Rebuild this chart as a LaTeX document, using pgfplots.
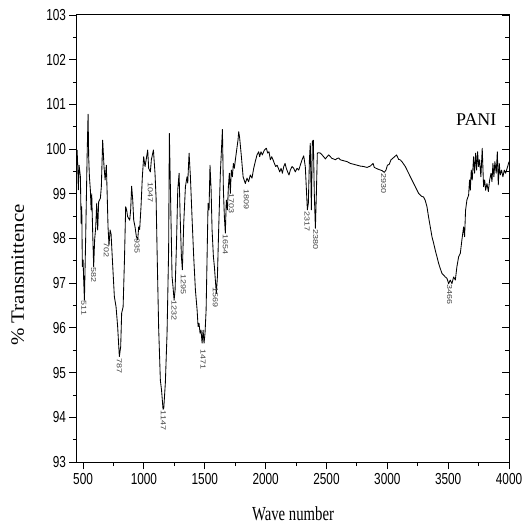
\documentclass[border=0pt]{standalone}
\usepackage{fontspec}
\usepackage{graphicx}
\usepackage{pgfplots}
\usepackage{pgfplotstable}
\pgfplotsset{compat=1.18}
\setmainfont{Liberation Serif}
\newfontfamily\tickfont{Liberation Sans}[FakeStretch=0.74]
\newfontfamily\labfont{Liberation Serif}[FakeStretch=0.74]
\newfontfamily\peakfont{Liberation Sans}

\pgfplotstableread{
x y
451 99.98
456 99.61
461 99.09
467 99.64
478 99.38
484 98.34
489 98.71
494 97.37
500 97.52
505 97.07
511 96.62
521 97.97
533 99.83
541 100.78
546 99.83
552 99.38
560 99.08
566 98.64
571 99.00
579 98.12
587 97.37
595 97.97
604 98.26
612 98.79
620 98.19
628 98.82
642 98.90
650 99.16
661 100.20
672 99.61
681 99.31
691 99.64
697 99.09
705 98.26
713 97.85
722 98.19
730 98.10
741 97.52
757 96.70
771 96.47
784 96.03
795 95.50
798 95.36
809 95.58
817 96.33
829 96.47
840 97.52
850 98.71
858 98.64
866 98.49
883 98.41
891 98.64
899 99.17
908 98.86
916 98.41
927 98.26
938 98.04
949 97.97
957 98.26
965 98.20
976 98.71
987 99.38
998 99.83
1009 99.61
1020 99.79
1031 99.98
1039 99.57
1053 99.49
1061 99.76
1078 99.98
1091 99.46
1100 98.90
1108 97.74
1121 96.00
1135 94.83
1145 94.60
1157 94.18
1163 94.20
1176 94.77
1190 95.88
1203 97.74
1209 100.35
1223 98.34
1231 97.15
1239 96.92
1248 96.62
1256 96.85
1267 97.82
1278 99.09
1289 99.46
1297 98.56
1308 97.59
1316 97.30
1327 98.34
1341 99.16
1354 99.38
1360 99.24
1371 99.91
1382 99.38
1395 98.49
1409 97.59
1423 96.85
1437 96.40
1445 96.03
1453 96.10
1461 95.88
1469 95.95
1478 95.66
1486 95.95
1494 95.66
1502 95.88
1511 96.40
1519 97.59
1527 98.79
1535 98.64
1543 99.64
1552 99.09
1560 98.19
1571 97.59
1579 97.37
1587 97.07
1595 96.77
1604 97.15
1614 98.19
1628 99.46
1645 100.44
1653 99.09
1661 98.49
1669 98.12
1677 98.86
1686 98.64
1694 99.16
1702 99.46
1710 99.01
1718 99.53
1727 99.38
1735 99.68
1743 99.57
1751 99.75
1762 99.98
1773 100.20
1779 100.39
1787 100.24
1801 99.83
1815 99.38
1833 99.23
1847 99.35
1860 99.27
1874 99.42
1888 99.35
1902 99.57
1915 99.72
1929 99.87
1943 99.94
1951 99.83
1962 99.94
1973 99.87
1990 99.98
2006 100.02
2017 99.91
2028 99.94
2039 99.76
2050 99.83
2061 99.76
2072 99.68
2083 99.61
2094 99.64
2105 99.57
2116 99.49
2127 99.57
2138 99.46
2149 99.61
2160 99.68
2170 99.57
2181 99.49
2192 99.42
2203 99.53
2217 99.61
2231 99.57
2244 99.49
2258 99.57
2272 99.53
2285 99.64
2299 99.76
2313 99.85
2326 99.61
2334 99.16
2343 98.64
2351 98.79
2360 99.76
2367 100.13
2376 98.64
2384 100.17
2392 100.20
2400 99.01
2409 98.23
2417 99.00
2425 99.91
2436 99.92
2450 99.91
2464 99.87
2477 99.83
2491 99.78
2505 99.83
2518 99.87
2532 99.83
2546 99.79
2559 99.78
2573 99.76
2587 99.79
2601 99.80
2614 99.76
2641 99.74
2669 99.72
2696 99.68
2724 99.66
2751 99.64
2778 99.62
2806 99.61
2833 99.59
2860 99.62
2883 99.68
2893 99.59
2924 99.55
2956 99.52
2975 99.48
2989 99.53
3001 99.64
3016 99.66
3030 99.76
3043 99.79
3060 99.83
3076 99.87
3093 99.77
3106 99.76
3120 99.72
3148 99.61
3175 99.46
3202 99.31
3230 99.16
3257 99.01
3271 98.97
3284 98.94
3298 98.93
3312 98.85
3326 98.71
3339 98.48
3353 98.26
3367 98.04
3381 97.89
3394 97.74
3408 97.59
3422 97.44
3435 97.33
3449 97.22
3463 97.18
3476 97.14
3490 97.11
3504 96.99
3517 97.07
3531 96.99
3545 97.14
3559 97.07
3572 97.37
3586 97.59
3600 97.67
3613 97.97
3627 98.26
3635 98.04
3643 98.63
3654 98.86
3668 98.97
3676 99.31
3682 99.08
3690 99.53
3698 99.31
3709 99.83
3717 99.46
3726 99.91
3734 99.53
3742 99.94
3750 99.61
3758 99.76
3769 99.38
3780 100.02
3791 99.16
3800 99.31
3808 99.08
3819 99.23
3830 99.05
3841 99.31
3852 99.46
3860 99.27
3868 99.68
3876 99.38
3884 99.72
3895 99.46
3904 99.94
3912 99.20
3920 99.68
3928 99.42
3939 99.53
3950 99.38
3961 99.53
3972 99.46
3989 99.61
4000 99.72
}\spectrum

\pgfplotstableread{
x y label
505 96.62 511
587 97.37 582
691 97.93 702
798 95.32 787
943 98.02 935
1053 99.27 1047
1160 94.16 1147
1248 96.62 1232
1324 97.22 1295
1486 95.54 1471
1587 96.92 1569
1669 98.11 1654
1718 99.03 1703
1842 99.12 1809
2340 98.61 2317
2411 98.21 2380
2970 99.46 2930
3512 96.98 3466
}\peaks

\begin{document}
\begin{tikzpicture}
\begin{axis}[
  scale only axis, width=432bp, height=447bp,
  xmin=450, xmax=4000, ymin=93, ymax=103,
  xtick={500,1000,...,4000}, minor x tick num=1,
  ytick={93,94,...,103}, minor y tick num=1,
  xtick pos=bottom, ytick pos=left,
  tick align=outside,
  major tick length=7.5bp, minor tick length=4bp,
  axis line style={line width=1bp},
  every tick/.style={black, line width=0.9bp},
  /pgf/number format/assume math mode=true,
  /pgf/number format/1000 sep={},
  tick label style={font=\tickfont\fontsize{16}{16}\selectfont},
  xlabel={Wave number},
  xlabel style={font=\labfont\fontsize{20}{20}\selectfont, at={(axis description cs:0.5,0)}, anchor=center, yshift=-52bp},
  ylabel={\scalebox{1}[0.9]{\% Transmittence}},
  ylabel style={font=\fontsize{21}{21}\selectfont, at={(axis description cs:-0.137,0.418)}, anchor=center, rotate=0},
]
\coordinate (O) at (rel axis cs:0,0);
\addplot[black, line width=0.85bp, line join=round] table[x=x,y=y]{\spectrum};
\addplot[draw=none, mark=none, nodes near coords={\scalebox{1}[0.8]{\pgfplotspointmeta}},
  point meta=explicit symbolic,
  nodes near coords style={font=\peakfont\fontsize{9}{9}\selectfont, text=black!75, rotate=-90, anchor=west, inner sep=0.5bp}]
  table[x=x,y=y,meta=label]{\peaks};
\node[font=\fontsize{18}{18}\selectfont] at (axis cs:3731,100.67) {PANI};
\end{axis}
\begin{axis}[
  scale only axis, width=432bp, height=447bp,
  xmin=450, xmax=4000, ymin=93, ymax=103,
  axis x line=none, axis y line*=right,
  ytick={93,94,...,103}, minor y tick num=1,
  yticklabels={}, tick align=inside,
  major tick length=7.5bp, minor tick length=4bp,
  axis line style={line width=1bp},
  every tick/.style={black, line width=0.9bp},
]
\end{axis}
\path (O) ++(-77bp,-63bp) rectangle ++(529bp,525bp);
\end{tikzpicture}
\end{document}
